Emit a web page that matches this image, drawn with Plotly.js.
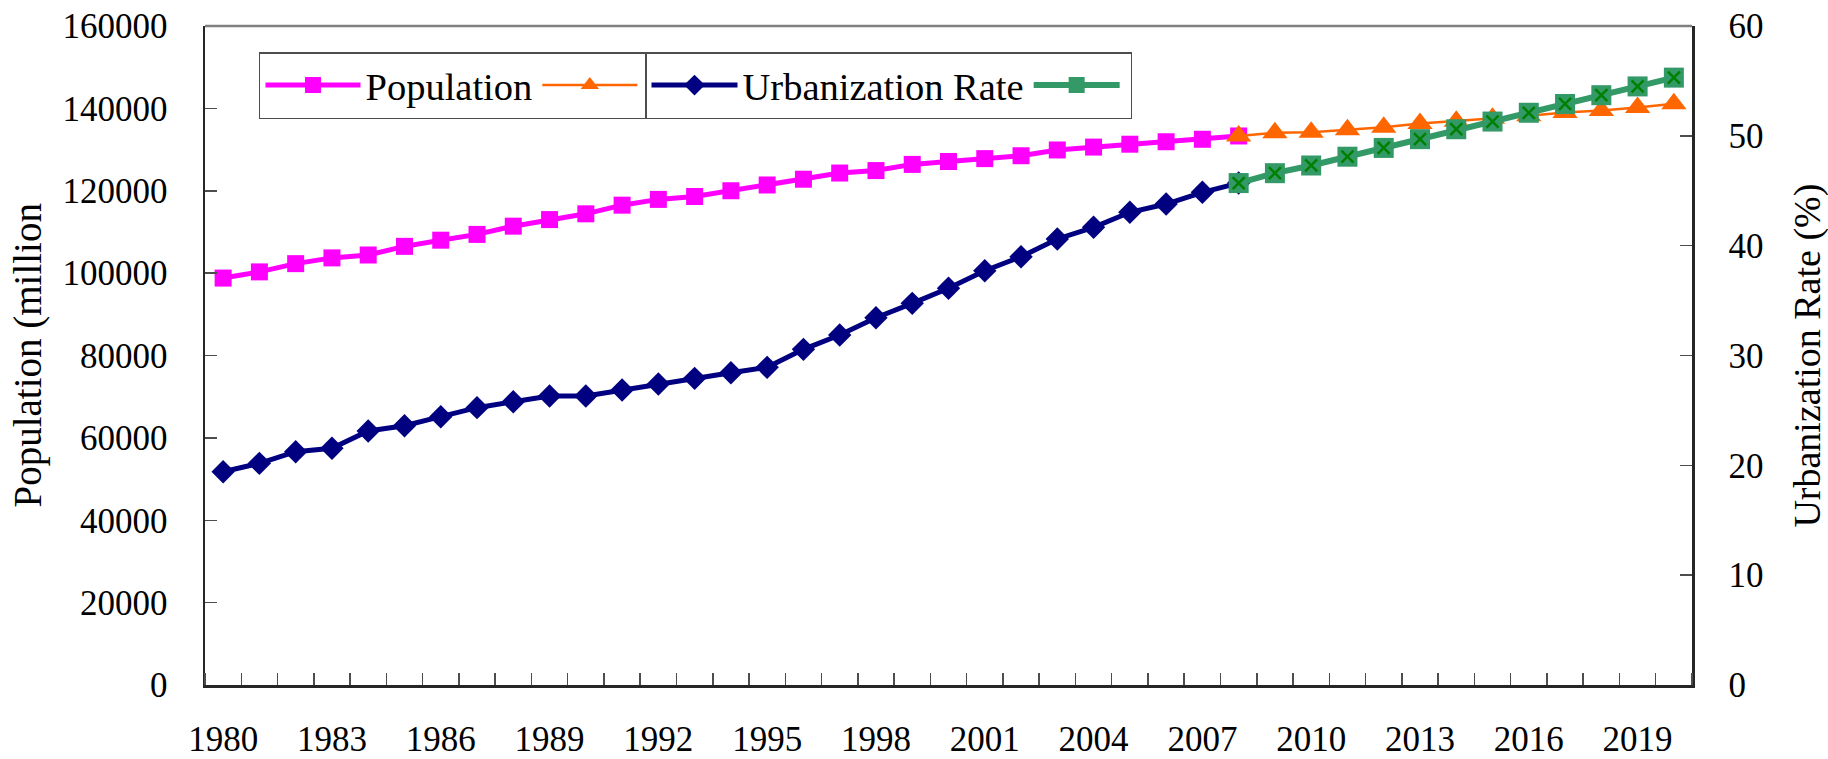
<!DOCTYPE html>
<html>
<head>
<meta charset="utf-8">
<script src="https://cdn.plot.ly/plotly-3.0.1.min.js"></script>
<style>
html,body{margin:0;padding:0;background:#ffffff;font-family:'Liberation Serif',serif;}
#chart{width:1828px;height:759px;}
</style>
</head>
<body>
<div id="chart"></div>
<script>
// ---- data ----
const years = [1980,1981,1982,1983,1984,1985,1986,1987,1988,1989,1990,1991,1992,1993,1994,
               1995,1996,1997,1998,1999,2000,2001,2002,2003,2004,2005,2006,2007,2008];
const population = [98800,100300,102300,103700,104400,106500,108000,109400,111400,113000,114400,116500,117900,118600,120000,
                    121400,122800,124300,124900,126400,127100,127800,128500,129900,130600,131300,131900,132500,133300];
const urbanRate = [19.42,20.18,21.24,21.55,23.13,23.61,24.43,25.25,25.79,26.31,26.31,26.86,27.40,27.92,28.43,
                   28.92,30.56,31.87,33.44,34.75,36.12,37.72,38.99,40.61,41.67,43.04,43.79,44.86,45.70];

const projYears = [2008,2009,2010,2011,2012,2013,2014,2015,2016,2017,2018,2019,2020];
const populationProj = [133300,134100,134200,134800,135400,136300,136900,137600,138200,139000,139500,140200,141100];
const urbanRateProj = [45.70,46.60,47.30,48.10,48.90,49.70,50.60,51.30,52.10,52.90,53.70,54.50,55.30];

const xTickYears = [1980,1983,1986,1989,1992,1995,1998,2001,2004,2007,2010,2013,2016,2019];
const xTickText = ['1980','1983','1986','1989','1992','1995','1998','2001','2004','2007','2010','2013','2016','2019'];
const yLeftTicks = [0,20000,40000,60000,80000,100000,120000,140000,160000];
const yRightTicks = [0,10,20,30,40,50,60];

const seriesNames = ['Population', '', 'Urbanization Rate', ''];
const leftTitle = 'Population (million';
const rightTitle = 'Urbanization Rate (%)';

// ---- styling ----
const SERIF = '"Liberation Serif", "Times New Roman", Times, serif';
const axisColor = '#262626';

const traces = [
  {
    x: years, y: population, name: seriesNames[0], type: 'scatter', mode: 'lines+markers',
    line: {color: '#FF00FF', width: 5},
    marker: {symbol: 'square', size: 17, color: '#FF00FF'},
    legend: 'legend', hoverinfo: 'x+y'
  },
  {
    x: projYears, y: populationProj, name: seriesNames[1], type: 'scatter', mode: 'lines+markers',
    line: {color: '#FF6600', width: 2.5},
    marker: {symbol: 'triangle-up', size: 22, color: '#FF6600'},
    legend: 'legend', hoverinfo: 'x+y'
  },
  {
    x: years, y: urbanRate, name: seriesNames[2], type: 'scatter', mode: 'lines+markers', yaxis: 'y2',
    line: {color: '#000080', width: 5},
    marker: {symbol: 'diamond', size: 18, color: '#000080'},
    legend: 'legend2', hoverinfo: 'x+y'
  },
  {
    x: projYears, y: urbanRateProj, name: seriesNames[3], type: 'scatter', mode: 'lines+markers', yaxis: 'y2',
    line: {color: '#339966', width: 6},
    marker: {symbol: 'square', size: 20, color: '#339966'},
    legend: 'legend2', hoverinfo: 'x+y'
  },
  {
    x: projYears, y: urbanRateProj, name: seriesNames[3], type: 'scatter', mode: 'markers', yaxis: 'y2',
    marker: {symbol: 'x-thin', size: 12, color: '#008000', line: {color: '#008000', width: 2.5}},
    showlegend: false, hoverinfo: 'skip'
  }
];

const legendCommon = {
  orientation: 'h', xanchor: 'left', yanchor: 'top', y: 0.9605,
  bgcolor: '#ffffff', bordercolor: '#4d4d4d', borderwidth: 1.5,
  font: {family: SERIF, size: 38.5, color: '#000000'},
  tracegroupgap: 0, traceorder: 'normal'
};

const layout = {
  width: 1828, height: 759,
  margin: {l: 205, r: 136, t: 26, b: 74, pad: 0},
  paper_bgcolor: '#ffffff', plot_bgcolor: '#ffffff',
  font: {family: SERIF, size: 34, color: '#000000'},
  showlegend: true,
  legend: Object.assign({}, legendCommon, {x: 0.0363, itemwidth: 95}),
  legend2: Object.assign({}, legendCommon, {x: 0.2959, itemwidth: 86}),
  xaxis: {
    type: 'linear', range: [1979.5, 2020.5], fixedrange: true,
    tickmode: 'array', tickvals: xTickYears, ticktext: xTickText,
    ticks: '', ticklabelstandoff: 21,
    minor: {ticks: 'inside', ticklen: 12, tickwidth: 1.5, tickcolor: '#4d4d4d', tickmode: 'linear', tick0: 1979.5, dtick: 1, showgrid: false},
    showline: true, linecolor: axisColor, linewidth: 2.5,
    showgrid: false, zeroline: false,
    tickfont: {family: SERIF, size: 35, color: '#000000'}
  },
  yaxis: {
    range: [0, 160000], fixedrange: true,
    tickmode: 'array', tickvals: yLeftTicks, tickformat: 'd',
    ticks: 'inside', ticklen: 12, tickwidth: 1.5, tickcolor: '#4d4d4d',
    ticklabelstandoff: 28,
    showline: true, linecolor: axisColor, linewidth: 2.5,
    showgrid: false, zeroline: false,
    tickfont: {family: SERIF, size: 35, color: '#000000'}
  },
  yaxis2: {
    range: [0, 60], overlaying: 'y', side: 'right', fixedrange: true,
    tickmode: 'array', tickvals: yRightTicks,
    ticks: 'inside', ticklen: 12, tickwidth: 1.5, tickcolor: '#4d4d4d',
    ticklabelstandoff: 27,
    showline: true, linecolor: axisColor, linewidth: 2.5,
    showgrid: false, zeroline: false,
    tickfont: {family: SERIF, size: 35, color: '#000000'}
  },
  shapes: [
    {type: 'line', xref: 'paper', yref: 'paper', x0: 0, x1: 1, y0: 1, y1: 1,
     line: {color: '#808080', width: 2.5}}
  ],
  annotations: [
    {text: leftTitle, xref: 'paper', yref: 'paper', x: -0.1197, y: 0.5,
     xanchor: 'center', yanchor: 'middle', textangle: -90, showarrow: false,
     font: {family: SERIF, size: 39, color: '#000000'}},
    {text: rightTitle, xref: 'paper', yref: 'paper', x: 1.0774, y: 0.5,
     xanchor: 'center', yanchor: 'middle', textangle: -90, showarrow: false,
     font: {family: SERIF, size: 38, color: '#000000'}}
  ]
};

Plotly.newPlot('chart', traces, layout, {displayModeBar: false, staticPlot: true});
</script>
</body>
</html>
